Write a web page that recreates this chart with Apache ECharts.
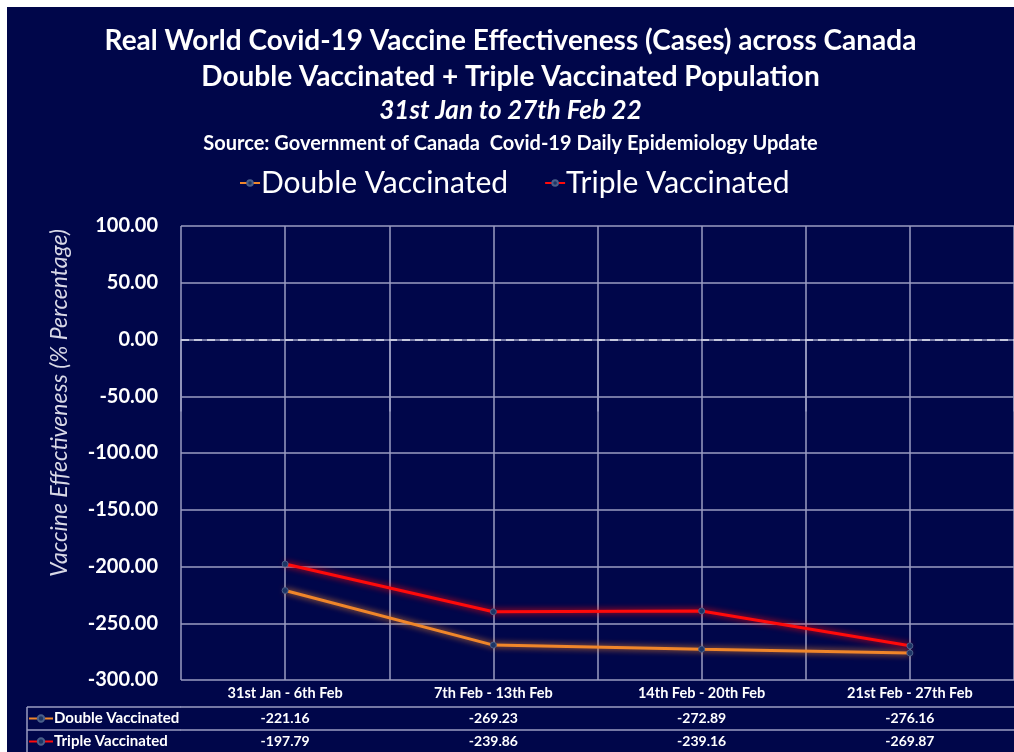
<!DOCTYPE html>
<html>
<head>
<meta charset="utf-8">
<script src="https://cdn.jsdelivr.net/npm/echarts@6/dist/echarts.min.js"></script>
<style>
  html, body { margin: 0; padding: 0; background: #ffffff; }
  #main { position: absolute; left: 7px; top: 7px; width: 1007px; height: 745px; }
</style>
</head>
<body>
<div id="main"></div>
<script>
const categories = ['31st Jan - 6th Feb', '7th Feb - 13th Feb', '14th Feb - 20th Feb', '21st Feb - 27th Feb'];
const doubleVaccinated = [-221.16, -269.23, -272.89, -276.16];
const tripleVaccinated = [-197.79, -239.86, -239.16, -269.87];
const seriesNames = ['Double Vaccinated', 'Triple Vaccinated'];
const yTicks = { min: -300, max: 100, interval: 50 };

const FONT = 'Lato';
const GRID = '#9a9dc2';
const BG = '#00064a';
const ORANGE = '#f0862a';
const RED = '#ff0a0a';

const chart = echarts.init(document.getElementById('main'));

// split line colours: hide the solid line at 0 (drawn dashed instead)
const nTicks = (yTicks.max - yTicks.min) / yTicks.interval + 1;
const yLineColors = [];
for (let i = 0; i < nTicks; i++) {
  const v = yTicks.min + i * yTicks.interval;
  yLineColors.push(v === 0 ? 'rgba(0,0,0,0)' : GRID);
}

const option = {
  backgroundColor: BG,
  animation: false,
  textStyle: { fontFamily: FONT },
  title: [
    { text: 'Real World Covid-19 Vaccine Effectiveness (Cases) across Canada', left: 'center', top: 15,
      textStyle: { color: '#fff', fontSize: 28, fontWeight: 'bold', fontFamily: FONT } },
    { text: 'Double Vaccinated + Triple Vaccinated Population', left: 'center', top: 51,
      textStyle: { color: '#fff', fontSize: 28, fontWeight: 'bold', fontFamily: FONT } },
    { text: '31st Jan to 27th Feb 22', left: 'center', top: 86,
      textStyle: { color: '#fff', fontSize: 26, fontWeight: 'bold', fontStyle: 'italic', fontFamily: FONT } },
    { text: 'Source: Government of Canada  Covid-19 Daily Epidemiology Update', left: 'center', top: 122,
      textStyle: { color: '#fff', fontSize: 20, fontWeight: 'bold', fontFamily: FONT } }
  ],
  legend: [
    { data: seriesNames, left: 227, top: 156, itemWidth: 20, itemHeight: 7, itemGap: 36,
      textStyle: { color: '#fff', fontSize: 30, fontFamily: FONT, padding: [0, 0, 0, -4] } },
    { data: seriesNames, orient: 'vertical', left: 21, top: 704, itemWidth: 24, itemHeight: 8, itemGap: 8,
      padding: 0, height: 45,
      textStyle: { color: '#fff', fontSize: 15, fontWeight: 'bold', fontFamily: FONT, padding: [0, 0, 0, -4] } }
  ],
  grid: { left: 174, top: 219, right: -5, bottom: 72 },
  xAxis: [
    { type: 'category', data: categories, position: 'bottom', boundaryGap: true,
      axisLine: { show: true, lineStyle: { color: GRID, width: 1.5 } },
      axisTick: { show: true, length: 72, lineStyle: { color: GRID, width: 1.5 } },
      axisLabel: { color: '#fff', fontSize: 14.5, fontWeight: 'bold', margin: 6, fontFamily: FONT },
      splitLine: { show: false } },
    { type: 'value', min: 0, max: 8, interval: 1, show: true,
      axisLine: { show: false }, axisTick: { show: false }, axisLabel: { show: false },
      splitLine: { show: true, lineStyle: { color: GRID, width: 1.5 } } },
    { type: 'category', data: categories, position: 'bottom', offset: 27,
      axisLine: { show: true, lineStyle: { color: GRID, width: 1.5 } },
      axisTick: { show: false },
      axisLabel: { color: '#fff', fontSize: 14, fontWeight: 'bold', margin: 4, fontFamily: FONT,
        formatter: (v, i) => doubleVaccinated[i].toFixed(2) } },
    { type: 'category', data: categories, position: 'bottom', offset: 50,
      axisLine: { show: true, lineStyle: { color: GRID, width: 1.5 } },
      axisTick: { show: false },
      axisLabel: { color: '#fff', fontSize: 14, fontWeight: 'bold', margin: 4, fontFamily: FONT,
        formatter: (v, i) => tripleVaccinated[i].toFixed(2) } }
  ],
  yAxis: {
    type: 'value', min: yTicks.min, max: yTicks.max, interval: yTicks.interval,
    axisLine: { show: false }, axisTick: { show: false },
    axisLabel: { color: '#fff', fontSize: 20, fontWeight: 'bold', margin: 23, fontFamily: FONT,
      formatter: v => v.toFixed(2) },
    splitLine: { show: true, lineStyle: { color: yLineColors, width: 1.5 } }
  },
  graphic: [
    { type: 'text', x: 53, y: 396, rotation: Math.PI / 2,
      style: { text: 'Vaccine Effectiveness (% Percentage)', fill: '#d8d8e6', fontSize: 23, fontStyle: 'italic',
        fontFamily: FONT, textAlign: 'center', textVerticalAlign: 'middle' } },
    { type: 'line', shape: { x1: 20, y1: 700, x2: 174, y2: 700 }, style: { stroke: GRID, lineWidth: 1.5 } },
    { type: 'line', shape: { x1: 20, y1: 723, x2: 174, y2: 723 }, style: { stroke: GRID, lineWidth: 1.5 } },
    { type: 'line', shape: { x1: 20, y1: 700, x2: 20, y2: 745 }, style: { stroke: GRID, lineWidth: 1.5 } }
  ],
  series: [
    { name: seriesNames[0], type: 'line', data: doubleVaccinated, xAxisIndex: 0,
      symbol: 'circle', symbolSize: 6,
      lineStyle: { color: ORANGE, width: 3, shadowColor: ORANGE, shadowBlur: 6 },
      itemStyle: { color: '#1c3566', borderColor: '#4a5f8a', borderWidth: 1 },
      markLine: { silent: true, symbol: 'none', label: { show: false },
        lineStyle: { color: '#c4c6dc', width: 2, type: [8, 5] },
        data: [{ yAxis: 0 }] } },
    { name: seriesNames[1], type: 'line', data: tripleVaccinated, xAxisIndex: 0,
      symbol: 'circle', symbolSize: 6,
      lineStyle: { color: RED, width: 3, shadowColor: RED, shadowBlur: 6 },
      itemStyle: { color: '#1c3566', borderColor: '#4a5f8a', borderWidth: 1 } }
  ]
};
chart.setOption(option);
</script>
</body>
</html>
